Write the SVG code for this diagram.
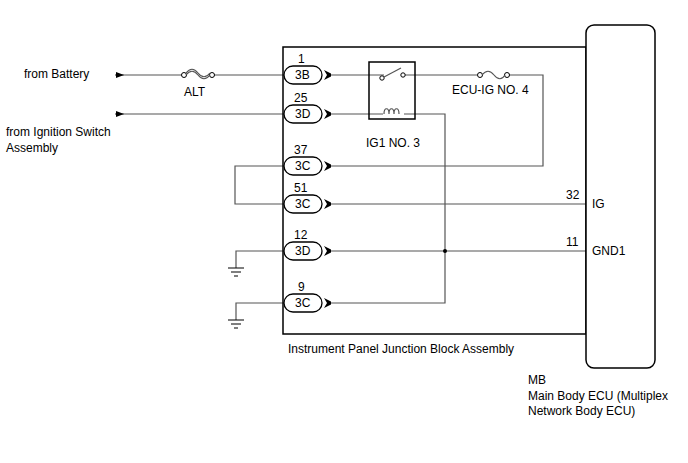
<svg xmlns="http://www.w3.org/2000/svg" width="688" height="463" viewBox="0 0 688 463">
<style>
text{font-family:"Liberation Sans",Arial,sans-serif;font-size:12px;fill:#000}
.w{stroke:#555;stroke-width:1.2;fill:none}
.b{stroke:#000;stroke-width:1.5;fill:none}
.p{fill:#fff;stroke:#000;stroke-width:1.3}
</style>
<defs>
<marker id="a" markerWidth="8" markerHeight="6" refX="8" refY="3" orient="auto" markerUnits="userSpaceOnUse"><path d="M0,0L8,3L0,6z" fill="#000"/></marker>
<g id="gnd"><path d="M-8,0H8M-5,4H5M-2,8H2" stroke="#000" stroke-width="1.2"/></g>
<g id="rc"><path d="M0,-5L7,-1.5V1.5L0,5L3,0z" fill="#000"/></g>
</defs>
<g id="connectors">
<path class="w" d="M115,75H124" marker-end="url(#a)"/>
<path class="w" d="M124,75H182M212,75H284"/>
<path class="w" d="M115,114H124" marker-end="url(#a)"/>
<path class="w" d="M124,114H284"/>
<path class="w" d="M328,75H384M404,75H477M509,75H543V166H328"/>
<path class="w" d="M328,114H383M404,114H445V303H328"/>
<path class="w" d="M284,166H235V204H284"/>
<path class="w" d="M328,204H586M328,251H586"/>
<path class="w" d="M284,251H236V268M284,303H236V320"/>
<circle cx="445" cy="251" r="2" fill="#000"/>
</g>
<g id="fuse-alt"><circle cx="184" cy="75" r="2.5" fill="#fff" stroke="#000"/><circle cx="212" cy="75" r="2.5" fill="#fff" stroke="#000"/><path d="M186,75c4,-5 8,-5 12,0s8,5 12,0M186,73c4,-5 8,-5 12,0s8,5 12,0" class="w"/><text x="184" y="96">ALT</text></g>
<g id="fuse-ecu"><circle cx="480" cy="75" r="2.5" fill="#fff" stroke="#000"/><circle cx="507" cy="75" r="2.5" fill="#fff" stroke="#000"/><path d="M482,75c4,-5 8,-5 12,0s8,5 11,0" class="w"/><text x="452" y="94">ECU-IG NO. 4</text></g>
<g id="relay"><rect x="369" y="62" width="46" height="57" fill="none" stroke="#000" stroke-width="1.5"/>
<circle cx="382" cy="78" r="2.2" fill="#fff" stroke="#000"/><circle cx="403" cy="75" r="2.2" fill="#fff" stroke="#000"/><path d="M384,77L401,68" class="w"/>
<path d="M384,114c0,-7 5,-7 5,0c0,-7 5,-7 5,0c0,-7 5,-7 5,0" class="w"/><text x="366" y="147">IG1 NO. 3</text></g>
<g id="jb"><path class="b" d="M283,47H586V334H283Z"/><text x="288" y="353">Instrument Panel Junction Block Assembly</text>
<text x="298" y="63">1</text><rect class="p" x="284" y="66" width="38" height="18" rx="9"/><text x="295" y="79">3B</text><use href="#rc" x="324" y="75"/>
<text x="294" y="102">25</text><rect class="p" x="284" y="105" width="38" height="18" rx="9"/><text x="295" y="118">3D</text><use href="#rc" x="324" y="114"/>
<text x="294" y="154">37</text><rect class="p" x="284" y="157" width="38" height="18" rx="9"/><text x="295" y="170">3C</text><use href="#rc" x="324" y="166"/>
<text x="294" y="192">51</text><rect class="p" x="284" y="195" width="38" height="18" rx="9"/><text x="295" y="208">3C</text><use href="#rc" x="324" y="204"/>
<text x="294" y="239">12</text><rect class="p" x="284" y="242" width="38" height="18" rx="9"/><text x="295" y="255">3D</text><use href="#rc" x="324" y="251"/>
<text x="298" y="291">9</text><rect class="p" x="284" y="294" width="38" height="18" rx="9"/><text x="295" y="307">3C</text><use href="#rc" x="324" y="303"/>
</g>
<g id="ecu"><rect x="586" y="25" width="69" height="343" rx="8" fill="#fff" stroke="#000" stroke-width="1.5"/>
<text x="566" y="199">32</text><text x="592" y="208">IG</text><text x="566" y="246">11</text><text x="592" y="255">GND1</text>
<text x="528" y="384">MB</text><text x="528" y="400">Main Body ECU (Multiplex</text><text x="528" y="415">Network Body ECU)</text></g>
<g id="grounds"><use href="#gnd" x="236" y="268"/><use href="#gnd" x="236" y="320"/></g>
<g id="labels"><text x="24" y="78">from Battery</text><text x="6" y="136">from Ignition Switch</text><text x="6" y="152">Assembly</text></g>
</svg>
